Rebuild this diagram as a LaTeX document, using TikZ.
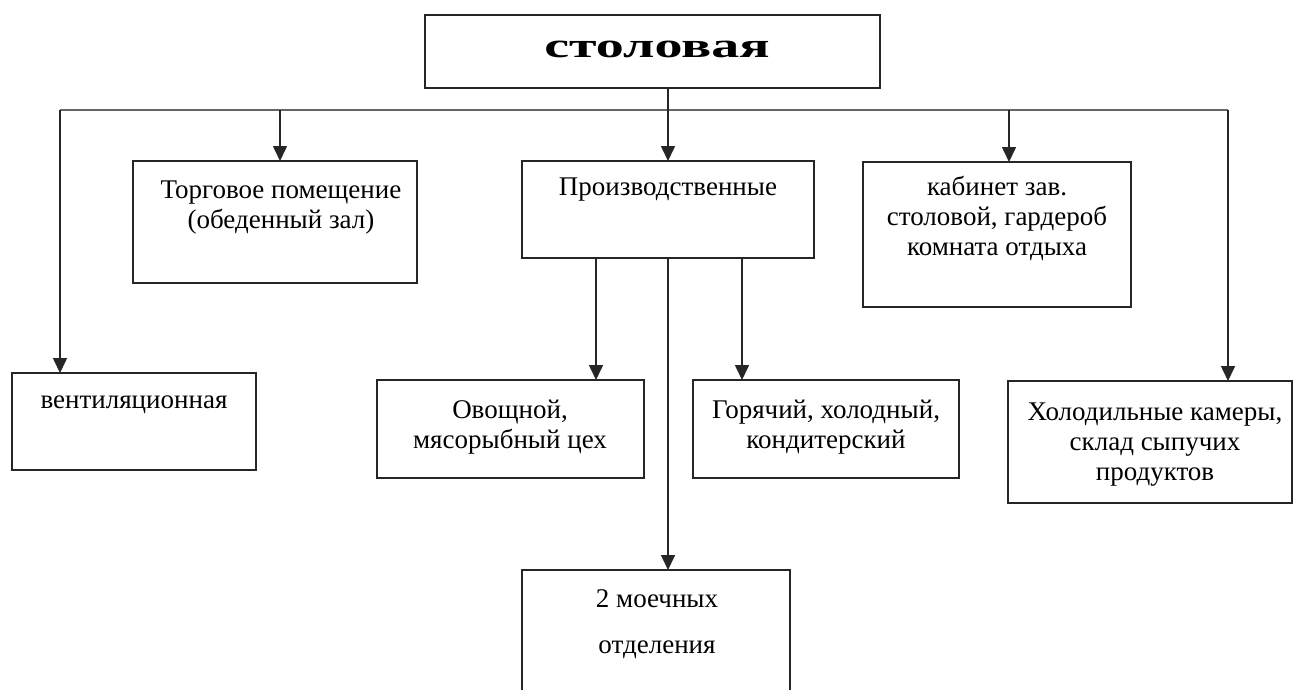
\documentclass[tikz,border=0pt]{standalone}
\usepackage{fontspec}
\setmainfont{Liberation Serif}
\usetikzlibrary{arrows.meta}
\tikzset{
  box/.style={draw=black!85, line width=1.6pt, rectangle, inner sep=0pt, outer sep=0pt},
  lab/.style={anchor=north, inner sep=0pt, align=center, font=\fontsize{27}{30}\selectfont},
  ln/.style={draw=black!85, line width=1.6pt},
  arr/.style={ln, -{Triangle[width=14pt,length=15pt]}},
  bus/.style={draw=black!60, line width=2.4pt},
}
\begin{document}
\begin{tikzpicture}[x=1pt,y=-1pt]
\useasboundingbox (0,0) rectangle (1295,689);
\clip (0,0) rectangle (1295,689);
% boxes: centre = ((l+r)/2,(t+b)/2)
\node[box, minimum width=455pt, minimum height=73pt] (title) at (652.5,51.5) {};
\node[box, minimum width=284pt, minimum height=122pt] (torg) at (275,222) {};
\node[box, minimum width=292pt, minimum height=97pt] (proiz) at (668,209.5) {};
\node[box, minimum width=268pt, minimum height=145pt] (kab) at (997,234.5) {};
\node[box, minimum width=244pt, minimum height=97pt] (vent) at (134,421.5) {};
\node[box, minimum width=267pt, minimum height=98pt] (ov) at (510.5,429) {};
\node[box, minimum width=266pt, minimum height=98pt] (gor) at (826,429) {};
\node[box, minimum width=284pt, minimum height=122pt] (hol) at (1150,442) {};
\node[box, minimum width=268pt, minimum height=140pt] (mo) at (656,640) {};
% texts
\node[anchor=base, inner sep=0pt] (titleT) at (657,57)
  {\scalebox{1.6}[1]{\fontsize{35}{40}\selectfont\bfseries столовая}};
\node[lab] (torgT) at (281,177) {\strut Торговое помещение\\(обеденный зал)};
\node[lab] (proizT) at (668,174) {\strut Производственные};
\node[lab] (kabT) at (997,174) {\strut кабинет зав.\\столовой, гардероб\\комната отдыха};
\node[lab] (ventT) at (134,387) {\strut вентиляционная};
\node[lab] (ovT) at (510,397) {\strut Овощной,\\мясорыбный цех};
\node[lab] (gorT) at (826,397) {\strut Горячий, холодный,\\кондитерский};
\node[lab] (holT) at (1155,399) {\strut Холодильные камеры,\\склад сыпучих\\продуктов};
\node[lab] (moT) at (657,586) {\strut 2 моечных\\[16pt]отделения};
% connectors
\coordinate (bL) at (60,110);
\coordinate (bR) at (1228,110);
\coordinate (cT) at (280,110);
\coordinate (cK) at (1009,110);
\coordinate (x1) at (596,0);
\coordinate (x2) at (668,0);
\coordinate (x3) at (742,0);
\draw[bus] (bL) -- (bR);
\draw[arr] (title.south -| proiz.north) -- (proiz.north);
\draw[arr] (bL) -- (bL |- vent.north);
\draw[arr] (bR) -- (bR |- hol.north);
\draw[arr] (cT) -- (cT |- torg.north);
\draw[arr] (cK) -- (cK |- kab.north);
\draw[arr] (proiz.south -| x1) -- (ov.north -| x1);
\draw[arr] (proiz.south -| x2) -- (mo.north -| x2);
\draw[arr] (proiz.south -| x3) -- (gor.north -| x3);
\end{tikzpicture}
\end{document}
